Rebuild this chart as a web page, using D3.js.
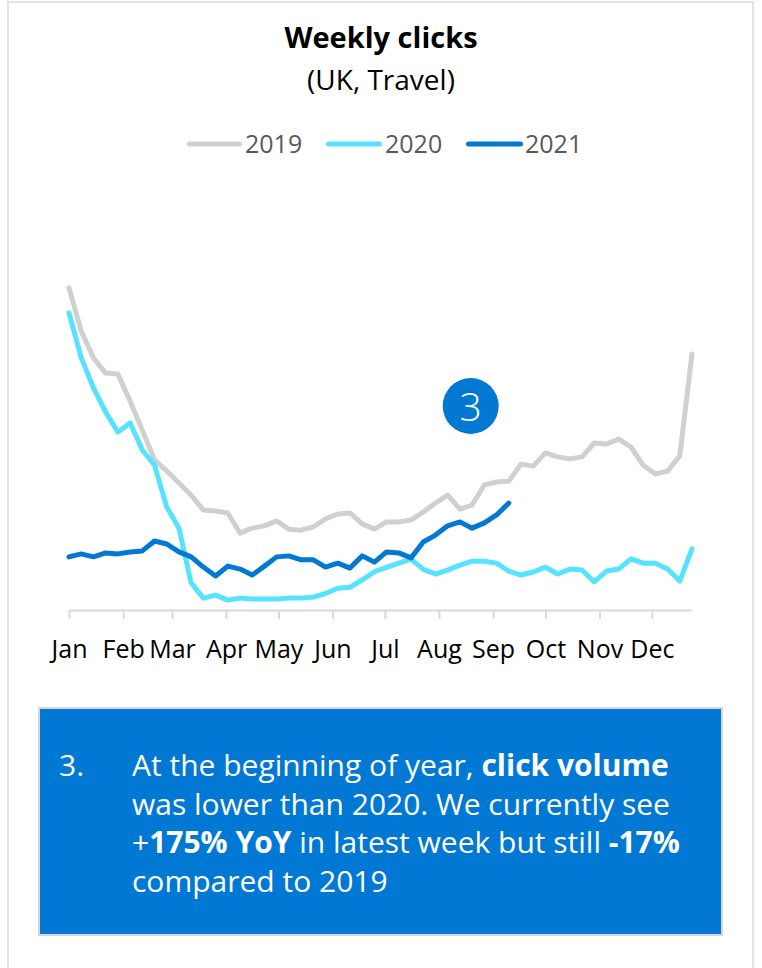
<!DOCTYPE html>
<html>
<head>
<meta charset="utf-8">
<script src="https://cdn.jsdelivr.net/npm/d3@7"></script>
<style>
  html, body { margin: 0; padding: 0; background: #fff; }
  svg { display: block; font-family: "Open Sans", "Noto Sans", sans-serif; }
</style>
</head>
<body>
<svg id="chart" width="762" height="968"></svg>
<script>
// Weekly click index, one value per week starting the first week of January
const clicks2019 = [97.6, 84.5, 76.4, 71.8, 71.5, 63.3, 54.5, 45.5, 42.1, 38.5,
  34.8, 30.3, 30.0, 29.4, 23.3, 24.8, 25.5, 27.0, 24.5, 24.2,
  25.2, 27.6, 29.1, 29.4, 26.1, 24.5, 26.7, 26.7, 27.3, 29.7,
  32.4, 34.8, 30.6, 31.8, 37.9, 38.8, 39.0, 44.2, 43.6, 47.6,
  46.4, 45.8, 46.4, 50.6, 50.3, 51.8, 49.4, 43.9, 41.2, 42.1,
  46.7, 77.6];
const clicks2020 = [90.0, 76.4, 67.3, 60.0, 53.9, 56.7, 48.5, 43.9, 31.2, 24.8,
  8.2, 3.6, 4.5, 3.0, 3.6, 3.3, 3.3, 3.3, 3.6, 3.6,
  3.9, 5.0, 6.6, 6.9, 9.1, 11.6, 12.9, 14.2, 15.4, 12.3,
  10.9, 12.1, 13.6, 14.8, 14.8, 14.2, 11.8, 10.6, 11.5, 13.0,
  10.9, 12.4, 12.1, 8.5, 11.8, 12.4, 15.5, 14.2, 14.2, 12.4,
  8.8, 18.5];
const clicks2021 = [16.1, 17.0, 16.1, 17.3, 17.0, 17.6, 17.9, 20.9, 20.0, 17.6,
  16.1, 13.0, 10.3, 13.3, 12.4, 10.6, 13.3, 16.1, 16.4, 15.2,
  15.2, 13.0, 14.2, 12.7, 16.4, 14.5, 17.6, 17.3, 15.8, 20.6,
  22.7, 25.5, 26.7, 24.8, 26.4, 28.8, 32.4];

const seriesNames = ["2019", "2020", "2021"];
const seriesColors = ["#d0d0d0", "#55e3ff", "#0078d4"];
const monthLabels = ["Jan", "Feb", "Mar", "Apr", "May", "Jun",
  "Jul", "Aug", "Sep", "Oct", "Nov", "Dec"];

const titleText = "Weekly clicks";
const subtitleText = "(UK, Travel)";
const badgeText = "3";
const noteNumber = "3.";
// each line of the note is a list of [text, bold] runs
const noteLines = [
  [["At the beginning of year, ", false], ["click volume", true]],
  [["was lower than 2020. We currently see", false]],
  [["+", false], ["175% YoY", true], [" in latest week but still ", false], ["-17%", true]],
  [["compared to 2019", false]]
];

const svg = d3.select("#chart");

// card outline
svg.append("rect")
  .attr("x", 8).attr("y", 2)
  .attr("width", 745).attr("height", 990)
  .attr("fill", "#fff")
  .attr("stroke", "#e4e4e4").attr("stroke-width", 2);

// titles
svg.append("text")
  .attr("x", 381).attr("y", 48)
  .attr("text-anchor", "middle")
  .attr("font-size", 29).attr("font-weight", 700).attr("fill", "#000")
  .text(titleText);
svg.append("text")
  .attr("x", 381).attr("y", 90)
  .attr("text-anchor", "middle")
  .attr("font-size", 28).attr("fill", "#000")
  .text(subtitleText);

// scales
const yearStart = new Date(2019, 0, 1);
const weekDate = i => d3.timeDay.offset(yearStart, 7 * i);
const x = d3.scaleTime()
  .domain([yearStart, weekDate(clicks2019.length - 1)])
  .range([69, 692]);
const y = d3.scaleLinear().domain([0, 100]).range([610, 280]);

// month axis
const monthStarts = d3.timeMonth.range(yearStart, weekDate(clicks2019.length - 1));
const axis = d3.axisBottom(x)
  .tickValues(monthStarts)
  .tickFormat((d, i) => monthLabels[i])
  .tickSize(9)
  .tickSizeOuter(0)
  .tickPadding(21);
const gAxis = svg.append("g")
  .attr("transform", `translate(0,${y(0)})`)
  .call(axis);
gAxis.select(".domain").attr("stroke", "#d9d9d9").attr("stroke-width", 2);
gAxis.selectAll(".tick line").attr("stroke", "#d9d9d9").attr("stroke-width", 2);
gAxis.selectAll(".tick text")
  .attr("font-size", 25)
  .attr("font-family", "\"Open Sans\", sans-serif")
  .attr("fill", "#000");

// lines
const line = d3.line()
  .x((d, i) => x(weekDate(i)))
  .y(d => y(d));
[clicks2019, clicks2020, clicks2021].forEach((values, k) => {
  svg.append("path")
    .datum(values)
    .attr("d", line)
    .attr("fill", "none")
    .attr("stroke", seriesColors[k])
    .attr("stroke-width", 5)
    .attr("stroke-linejoin", "round")
    .attr("stroke-linecap", "round");
});

// legend
const legendItems = [
  { x0: 189.5, x1: 239.5, tx: 245 },
  { x0: 328.5, x1: 379.5, tx: 385 },
  { x0: 468.5, x1: 520.5, tx: 525 }
];
legendItems.forEach((it, k) => {
  svg.append("line")
    .attr("x1", it.x0).attr("x2", it.x1)
    .attr("y1", 144).attr("y2", 144)
    .attr("stroke", seriesColors[k])
    .attr("stroke-width", 5)
    .attr("stroke-linecap", "round");
  svg.append("text")
    .attr("x", it.tx).attr("y", 153)
    .attr("font-size", 25).attr("fill", "#595959")
    .text(seriesNames[k]);
});

// numbered badge
svg.append("circle")
  .attr("cx", 470.7).attr("cy", 406).attr("r", 28)
  .attr("fill", "#0078d4");
svg.append("text")
  .attr("x", 470.7).attr("y", 420.5)
  .attr("text-anchor", "middle")
  .attr("font-size", 39).attr("font-weight", 300).attr("fill", "#fff")
  .text(badgeText);

// note box
svg.append("rect")
  .attr("x", 39).attr("y", 708)
  .attr("width", 683).attr("height", 227)
  .attr("fill", "#0078d4")
  .attr("stroke", "#d6d6d6").attr("stroke-width", 2);

const noteSize = 30;
svg.append("text")
  .attr("x", 59).attr("y", 776)
  .attr("font-size", noteSize).attr("fill", "#fff")
  .text(noteNumber);
const noteBaselines = [776, 814.5, 853, 891.5];
noteLines.forEach((runs, li) => {
  const t = svg.append("text")
    .attr("x", 132).attr("y", noteBaselines[li])
    .attr("font-size", noteSize).attr("fill", "#fff")
    .attr("xml:space", "preserve")
    .style("white-space", "pre");
  runs.forEach(([s, b]) => {
    t.append("tspan").attr("font-weight", b ? 700 : 400).text(s);
  });
});
</script>
</body>
</html>
